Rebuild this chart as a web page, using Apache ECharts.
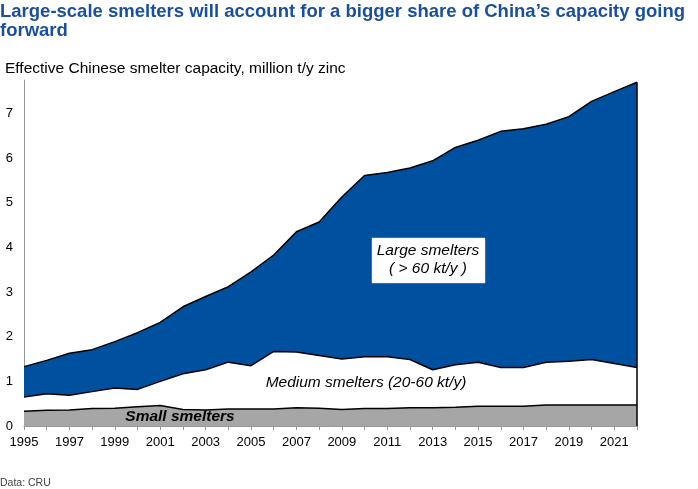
<!DOCTYPE html>
<html><head><meta charset="utf-8">
<script src="https://cdn.jsdelivr.net/npm/echarts@6/dist/echarts.min.js"></script>
<style>html,body{margin:0;padding:0;background:#fff}#c{width:698px;height:489px}</style>
</head><body><div id="c"></div>
<script>
var years = ['1995','1996','1997','1998','1999','2000','2001','2002','2003','2004','2005','2006','2007','2008','2009','2010','2011','2012','2013','2014','2015','2016','2017','2018','2019','2020','2021','2022'];
var smallCap = [0.33,0.35,0.36,0.39,0.40,0.43,0.46,0.37,0.36,0.38,0.38,0.38,0.41,0.40,0.37,0.39,0.39,0.41,0.41,0.42,0.44,0.44,0.44,0.47,0.47,0.47,0.47,0.47];
var smallMediumCap = [0.65,0.72,0.69,0.77,0.85,0.82,1.00,1.17,1.26,1.43,1.35,1.67,1.66,1.58,1.50,1.55,1.55,1.49,1.26,1.37,1.43,1.31,1.31,1.43,1.45,1.49,1.40,1.31];
var totalCap = [1.33,1.47,1.63,1.71,1.89,2.09,2.32,2.67,2.90,3.12,3.45,3.83,4.35,4.57,5.13,5.61,5.68,5.78,5.94,6.24,6.40,6.60,6.66,6.76,6.93,7.27,7.49,7.70];
var yTicks = [0,1,2,3,4,5,6,7];

var mediumCap = smallMediumCap.map(function(v,i){return +(v - smallCap[i]).toFixed(3);});
var largeCap = totalCap.map(function(v,i){return +(v - smallMediumCap[i]).toFixed(3);});

var chart = echarts.init(document.getElementById('c'));
var ff = '"Liberation Sans", Arial, sans-serif';
function areaSeries(name, data, color, extra){
  var s = {name:name, type:'line', stack:'cap', data:data, symbol:'none', silent:true,
    lineStyle:{color:'#000', width:1.5}, areaStyle:{color:color, opacity:1}};
  if (extra) for (var k in extra) s[k]=extra[k];
  return s;
}
chart.setOption({
  animation:false,
  textStyle:{fontFamily:ff},
  title:[
    {text:'Large-scale smelters will account for a bigger share of China\u2019s capacity going\nforward', left:0, top:2, padding:0,
     textStyle:{fontFamily:ff, fontSize:18.5, fontWeight:'bold', color:'#1a4f9e', lineHeight:19.5}},
    {text:'Effective Chinese smelter capacity, million t/y zinc', left:5, top:61, padding:0,
     textStyle:{fontFamily:ff, fontSize:15.5, fontWeight:'normal', color:'#000'}},
    {text:'Data: CRU', left:0, top:478, padding:0,
     textStyle:{fontFamily:ff, fontSize:10.5, fontWeight:'normal', color:'#444'}}
  ],
  grid:{left:24, right:61, top:80, bottom:63, containLabel:false},
  xAxis:{type:'category', data:years, boundaryGap:false,
    axisLine:{lineStyle:{color:'#999', width:1}},
    axisTick:{show:true, interval:0, length:4, lineStyle:{color:'#999'}},
    axisLabel:{interval:1, color:'#000', fontSize:13, fontFamily:ff, margin:10},
    splitLine:{show:false}},
  yAxis:{type:'value', min:0, max:7.75, interval:1,
    axisLine:{show:true, lineStyle:{color:'#999'}},
    axisTick:{show:false},
    axisLabel:{color:'#000', fontSize:13, fontFamily:ff, margin:11,
      formatter:function(v){return yTicks.indexOf(v)>=0 ? String(v) : '';}},
    splitLine:{show:false}},
  series:[
    areaSeries('Small smelters', smallCap, '#a6a6a6'),
    areaSeries('Medium smelters', mediumCap, '#ffffff'),
    areaSeries('Large smelters', largeCap, '#0050a0', {
      markLine:{silent:true, symbol:'none', label:{show:false},
        lineStyle:{color:'#000', width:1.5, type:'solid'},
        data:[[{coord:['2022',0]},{coord:['2022',totalCap[totalCap.length-1]]}]]}})
  ],
  graphic:[
    {type:'rect', shape:{x:372, y:238, width:113, height:45}, style:{fill:'#fff', stroke:'#ddd', lineWidth:0.5}, z:100},
    {type:'text', x:428, y:260, z:101, style:{text:'Large smelters\n( > 60 kt/y )', fontFamily:ff, fontSize:15.5, fontStyle:'italic', fill:'#000', align:'center', verticalAlign:'middle', lineHeight:18}},
    {type:'text', x:366, y:383, z:101, style:{text:'Medium smelters (20-60 kt/y)', fontFamily:ff, fontSize:15.5, fontStyle:'italic', fill:'#000', align:'center', verticalAlign:'middle'}},
    {type:'text', x:180, y:417, z:101, style:{text:'Small smelters', fontFamily:ff, fontSize:15.5, fontStyle:'italic', fontWeight:'bold', fill:'#000', align:'center', verticalAlign:'middle'}}
  ]
});
</script></body></html>
